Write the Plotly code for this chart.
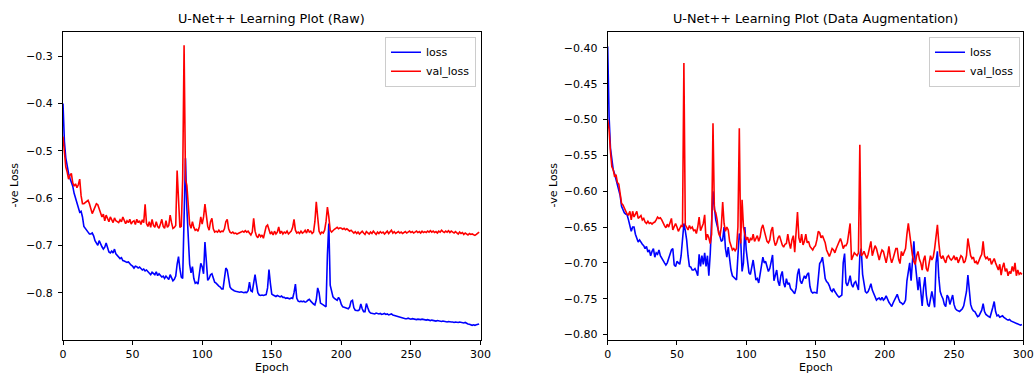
import plotly.graph_objects as go

W, H = 1034, 376

epochs = list(range(300))

raw_loss = [
-0.400,-0.480,-0.515,-0.535,-0.548,-0.558,-0.567,-0.575,-0.590,-0.600,
-0.607,-0.618,-0.630,-0.628,-0.640,-0.660,-0.665,-0.668,-0.672,-0.676,
-0.676,-0.674,-0.680,-0.690,-0.696,-0.700,-0.690,-0.698,-0.703,-0.708,
-0.704,-0.695,-0.708,-0.714,-0.716,-0.712,-0.716,-0.708,-0.718,-0.722,
-0.726,-0.728,-0.726,-0.732,-0.733,-0.734,-0.736,-0.735,-0.740,-0.742,
-0.744,-0.748,-0.744,-0.745,-0.748,-0.746,-0.749,-0.752,-0.750,-0.754,
-0.752,-0.756,-0.760,-0.762,-0.757,-0.760,-0.762,-0.756,-0.764,-0.760,
-0.763,-0.767,-0.765,-0.770,-0.765,-0.768,-0.772,-0.762,-0.770,-0.775,
-0.772,-0.765,-0.740,-0.724,-0.750,-0.767,-0.770,-0.640,-0.516,-0.622,
-0.700,-0.740,-0.758,-0.745,-0.770,-0.780,-0.778,-0.782,-0.760,-0.738,
-0.745,-0.760,-0.693,-0.740,-0.774,-0.770,-0.762,-0.760,-0.770,-0.778,
-0.780,-0.784,-0.786,-0.788,-0.792,-0.792,-0.770,-0.748,-0.752,-0.776,
-0.788,-0.792,-0.795,-0.796,-0.797,-0.798,-0.798,-0.799,-0.798,-0.799,
-0.800,-0.799,-0.800,-0.796,-0.778,-0.796,-0.798,-0.780,-0.762,-0.782,
-0.800,-0.805,-0.806,-0.805,-0.806,-0.805,-0.804,-0.790,-0.751,-0.780,
-0.803,-0.805,-0.806,-0.808,-0.806,-0.808,-0.809,-0.807,-0.810,-0.810,
-0.812,-0.811,-0.812,-0.813,-0.811,-0.812,-0.800,-0.782,-0.812,-0.818,
-0.819,-0.818,-0.819,-0.818,-0.820,-0.819,-0.816,-0.814,-0.818,-0.822,
-0.824,-0.826,-0.815,-0.790,-0.800,-0.822,-0.825,-0.826,-0.828,-0.830,
-0.720,-0.654,-0.784,-0.800,-0.809,-0.812,-0.815,-0.816,-0.810,-0.815,
-0.825,-0.830,-0.831,-0.832,-0.833,-0.834,-0.830,-0.818,-0.816,-0.832,
-0.837,-0.838,-0.838,-0.836,-0.824,-0.834,-0.840,-0.840,-0.823,-0.832,
-0.840,-0.843,-0.844,-0.844,-0.845,-0.843,-0.844,-0.845,-0.844,-0.846,
-0.845,-0.844,-0.846,-0.845,-0.847,-0.846,-0.845,-0.847,-0.848,-0.848,
-0.850,-0.851,-0.852,-0.853,-0.853,-0.854,-0.855,-0.855,-0.854,-0.855,
-0.856,-0.855,-0.856,-0.856,-0.857,-0.856,-0.857,-0.857,-0.856,-0.857,
-0.858,-0.858,-0.857,-0.858,-0.859,-0.858,-0.859,-0.859,-0.860,-0.859,
-0.860,-0.860,-0.861,-0.860,-0.861,-0.861,-0.862,-0.861,-0.862,-0.862,
-0.862,-0.863,-0.862,-0.863,-0.863,-0.862,-0.863,-0.864,-0.864,-0.863,
-0.865,-0.866,-0.867,-0.868,-0.869,-0.868,-0.869,-0.868,-0.867,-0.866,
]

raw_val_loss = [
-0.470,-0.510,-0.534,-0.545,-0.560,-0.552,-0.548,-0.568,-0.575,-0.570,
-0.578,-0.572,-0.560,-0.595,-0.612,-0.612,-0.610,-0.608,-0.605,-0.612,
-0.625,-0.633,-0.626,-0.618,-0.612,-0.614,-0.622,-0.630,-0.640,-0.634,
-0.648,-0.636,-0.644,-0.650,-0.640,-0.646,-0.652,-0.642,-0.648,-0.650,
-0.652,-0.646,-0.650,-0.640,-0.648,-0.654,-0.648,-0.652,-0.645,-0.655,
-0.650,-0.648,-0.656,-0.645,-0.652,-0.648,-0.656,-0.646,-0.652,-0.613,
-0.654,-0.660,-0.650,-0.662,-0.645,-0.658,-0.662,-0.650,-0.660,-0.664,
-0.655,-0.645,-0.660,-0.664,-0.648,-0.662,-0.658,-0.636,-0.652,-0.664,
-0.662,-0.658,-0.542,-0.610,-0.662,-0.660,-0.560,-0.277,-0.560,-0.573,
-0.626,-0.655,-0.664,-0.650,-0.662,-0.668,-0.666,-0.670,-0.660,-0.640,
-0.655,-0.640,-0.613,-0.635,-0.660,-0.668,-0.650,-0.643,-0.665,-0.672,
-0.670,-0.672,-0.668,-0.672,-0.670,-0.671,-0.665,-0.650,-0.645,-0.665,
-0.672,-0.674,-0.672,-0.675,-0.674,-0.676,-0.675,-0.674,-0.672,-0.670,
-0.672,-0.669,-0.672,-0.670,-0.675,-0.678,-0.672,-0.643,-0.670,-0.680,
-0.684,-0.676,-0.682,-0.678,-0.685,-0.674,-0.660,-0.657,-0.668,-0.676,
-0.672,-0.678,-0.670,-0.676,-0.672,-0.661,-0.675,-0.670,-0.676,-0.672,
-0.674,-0.670,-0.676,-0.673,-0.670,-0.662,-0.645,-0.668,-0.674,-0.672,
-0.675,-0.670,-0.674,-0.672,-0.668,-0.674,-0.666,-0.672,-0.670,-0.675,
-0.672,-0.650,-0.608,-0.640,-0.670,-0.676,-0.672,-0.674,-0.668,-0.650,
-0.619,-0.640,-0.668,-0.672,-0.668,-0.666,-0.664,-0.662,-0.665,-0.663,
-0.664,-0.666,-0.664,-0.667,-0.665,-0.668,-0.670,-0.668,-0.672,-0.674,
-0.671,-0.675,-0.672,-0.676,-0.673,-0.670,-0.674,-0.677,-0.671,-0.674,
-0.676,-0.672,-0.675,-0.670,-0.674,-0.677,-0.672,-0.675,-0.671,-0.674,
-0.672,-0.676,-0.673,-0.670,-0.675,-0.672,-0.668,-0.674,-0.671,-0.675,
-0.673,-0.671,-0.674,-0.672,-0.675,-0.673,-0.671,-0.674,-0.672,-0.670,
-0.673,-0.671,-0.674,-0.672,-0.670,-0.673,-0.671,-0.674,-0.670,-0.673,
-0.671,-0.673,-0.670,-0.672,-0.669,-0.672,-0.670,-0.673,-0.671,-0.674,
-0.670,-0.672,-0.668,-0.671,-0.673,-0.670,-0.672,-0.669,-0.673,-0.670,
-0.672,-0.674,-0.671,-0.673,-0.676,-0.672,-0.675,-0.673,-0.677,-0.674,
-0.676,-0.678,-0.675,-0.677,-0.676,-0.678,-0.679,-0.677,-0.675,-0.672,
]

aug_loss = [
-0.398,-0.496,-0.540,-0.558,-0.570,-0.576,-0.584,-0.588,-0.596,-0.606,
-0.621,-0.627,-0.630,-0.632,-0.633,-0.640,-0.648,-0.656,-0.650,-0.650,
-0.660,-0.666,-0.671,-0.668,-0.672,-0.674,-0.676,-0.680,-0.677,-0.685,
-0.682,-0.690,-0.684,-0.680,-0.692,-0.686,-0.688,-0.682,-0.690,-0.694,
-0.698,-0.700,-0.703,-0.700,-0.694,-0.688,-0.682,-0.680,-0.703,-0.705,
-0.698,-0.700,-0.702,-0.690,-0.668,-0.645,-0.655,-0.668,-0.690,-0.705,
-0.706,-0.710,-0.710,-0.708,-0.712,-0.718,-0.688,-0.705,-0.690,-0.702,
-0.686,-0.705,-0.690,-0.718,-0.688,-0.650,-0.600,-0.622,-0.640,-0.648,
-0.656,-0.664,-0.670,-0.668,-0.650,-0.680,-0.692,-0.678,-0.700,-0.710,
-0.718,-0.720,-0.722,-0.724,-0.690,-0.659,-0.668,-0.712,-0.700,-0.650,
-0.682,-0.700,-0.714,-0.716,-0.705,-0.696,-0.710,-0.724,-0.722,-0.728,
-0.716,-0.700,-0.692,-0.700,-0.698,-0.705,-0.712,-0.708,-0.695,-0.689,
-0.725,-0.718,-0.710,-0.726,-0.732,-0.718,-0.712,-0.728,-0.734,-0.722,
-0.730,-0.728,-0.736,-0.738,-0.740,-0.743,-0.735,-0.716,-0.708,-0.725,
-0.729,-0.722,-0.718,-0.722,-0.716,-0.714,-0.733,-0.740,-0.742,-0.741,
-0.742,-0.742,-0.722,-0.701,-0.698,-0.692,-0.706,-0.722,-0.726,-0.728,
-0.732,-0.738,-0.740,-0.736,-0.740,-0.744,-0.746,-0.748,-0.746,-0.745,
-0.700,-0.687,-0.728,-0.732,-0.726,-0.718,-0.730,-0.734,-0.728,-0.726,
-0.732,-0.738,-0.690,-0.680,-0.716,-0.730,-0.740,-0.742,-0.740,-0.735,
-0.729,-0.738,-0.742,-0.748,-0.752,-0.750,-0.749,-0.752,-0.748,-0.752,
-0.750,-0.746,-0.751,-0.755,-0.758,-0.761,-0.756,-0.752,-0.746,-0.744,
-0.750,-0.755,-0.756,-0.758,-0.756,-0.752,-0.725,-0.712,-0.700,-0.725,
-0.700,-0.670,-0.700,-0.720,-0.738,-0.720,-0.745,-0.760,-0.735,-0.720,
-0.745,-0.758,-0.761,-0.752,-0.740,-0.750,-0.762,-0.700,-0.684,-0.720,
-0.740,-0.746,-0.750,-0.758,-0.761,-0.745,-0.748,-0.758,-0.752,-0.745,
-0.758,-0.764,-0.766,-0.767,-0.768,-0.766,-0.764,-0.760,-0.752,-0.740,
-0.717,-0.740,-0.758,-0.764,-0.767,-0.768,-0.772,-0.775,-0.774,-0.770,
-0.766,-0.757,-0.768,-0.772,-0.774,-0.775,-0.776,-0.770,-0.762,-0.754,
-0.768,-0.774,-0.773,-0.776,-0.775,-0.774,-0.776,-0.778,-0.779,-0.780,
-0.779,-0.781,-0.782,-0.782,-0.783,-0.784,-0.785,-0.786,-0.787,-0.786,
]

aug_val_loss = [
-0.500,-0.514,-0.545,-0.566,-0.570,-0.580,-0.577,-0.588,-0.590,-0.603,
-0.617,-0.619,-0.624,-0.628,-0.632,-0.633,-0.628,-0.640,-0.628,-0.636,
-0.632,-0.628,-0.638,-0.636,-0.634,-0.640,-0.638,-0.643,-0.645,-0.642,
-0.645,-0.644,-0.646,-0.644,-0.643,-0.640,-0.636,-0.638,-0.637,-0.640,
-0.645,-0.648,-0.651,-0.646,-0.650,-0.642,-0.638,-0.654,-0.650,-0.645,
-0.650,-0.656,-0.652,-0.648,-0.650,-0.421,-0.647,-0.650,-0.654,-0.648,
-0.652,-0.650,-0.655,-0.654,-0.659,-0.650,-0.636,-0.655,-0.650,-0.645,
-0.633,-0.668,-0.660,-0.665,-0.673,-0.660,-0.505,-0.626,-0.630,-0.640,
-0.658,-0.663,-0.650,-0.615,-0.645,-0.656,-0.650,-0.654,-0.670,-0.676,
-0.682,-0.680,-0.683,-0.680,-0.650,-0.512,-0.673,-0.612,-0.650,-0.660,
-0.668,-0.664,-0.672,-0.666,-0.668,-0.660,-0.670,-0.666,-0.662,-0.670,
-0.664,-0.652,-0.647,-0.655,-0.665,-0.670,-0.672,-0.668,-0.655,-0.650,
-0.668,-0.676,-0.672,-0.665,-0.662,-0.670,-0.675,-0.678,-0.674,-0.673,
-0.660,-0.672,-0.680,-0.668,-0.662,-0.685,-0.660,-0.629,-0.665,-0.672,
-0.660,-0.675,-0.670,-0.660,-0.672,-0.670,-0.677,-0.680,-0.682,-0.678,
-0.676,-0.668,-0.656,-0.658,-0.665,-0.662,-0.668,-0.672,-0.682,-0.688,
-0.691,-0.686,-0.680,-0.682,-0.686,-0.680,-0.676,-0.670,-0.666,-0.672,
-0.680,-0.676,-0.676,-0.672,-0.660,-0.645,-0.696,-0.690,-0.686,-0.688,
-0.690,-0.686,-0.535,-0.690,-0.688,-0.684,-0.690,-0.694,-0.688,-0.678,
-0.670,-0.690,-0.684,-0.676,-0.680,-0.690,-0.696,-0.688,-0.682,-0.684,
-0.692,-0.700,-0.690,-0.677,-0.692,-0.700,-0.694,-0.688,-0.680,-0.680,
-0.695,-0.701,-0.684,-0.690,-0.686,-0.680,-0.660,-0.645,-0.660,-0.676,
-0.690,-0.698,-0.702,-0.690,-0.684,-0.695,-0.700,-0.710,-0.696,-0.690,
-0.708,-0.712,-0.698,-0.690,-0.696,-0.692,-0.680,-0.660,-0.647,-0.672,
-0.690,-0.694,-0.690,-0.696,-0.700,-0.692,-0.690,-0.694,-0.696,-0.694,
-0.690,-0.696,-0.692,-0.700,-0.696,-0.690,-0.692,-0.700,-0.698,-0.690,
-0.666,-0.680,-0.690,-0.694,-0.692,-0.700,-0.698,-0.702,-0.696,-0.692,
-0.688,-0.670,-0.690,-0.694,-0.692,-0.696,-0.694,-0.702,-0.698,-0.694,
-0.700,-0.706,-0.710,-0.702,-0.717,-0.706,-0.700,-0.712,-0.708,-0.718,
-0.712,-0.715,-0.705,-0.712,-0.700,-0.718,-0.710,-0.716,-0.714,-0.716,
]

titles = ["U-Net++ Learning Plot (Raw)", "U-Net++ Learning Plot (Data Augmentation)"]
x_label = "Epoch"
y_label = "-ve Loss"
series_names = ["loss", "val_loss"]
x_ticks = [0, 50, 100, 150, 200, 250, 300]
raw_y_ticks = [-0.8, -0.7, -0.6, -0.5, -0.4, -0.3]
aug_y_ticks = [-0.80, -0.75, -0.70, -0.65, -0.60, -0.55, -0.50, -0.45, -0.40]

FONT = "DejaVu Sans"
BLUE = "#0000ff"
RED = "#ff0000"
TICK_SIZE = 11
LABEL_SIZE = 11
TITLE_SIZE = 12.8

# pixel geometry of the two axes boxes
L_X0, L_X1 = 63.0, 480.5
R_X0, R_X1 = 607.7, 1023.3
Y_TOP, Y_BOT = 31.5, 339.5

def fx(px):
    return px / W

def fy(py):
    return 1 - py / H

fig = go.Figure()

fig.add_trace(go.Scatter(x=epochs, y=raw_loss, mode="lines", name=series_names[0],
                         line=dict(color=BLUE, width=1.6), xaxis="x", yaxis="y", legend="legend"))
fig.add_trace(go.Scatter(x=epochs, y=raw_val_loss, mode="lines", name=series_names[1],
                         line=dict(color=RED, width=1.6), xaxis="x", yaxis="y", legend="legend"))
fig.add_trace(go.Scatter(x=epochs, y=aug_loss, mode="lines", name=series_names[0],
                         line=dict(color=BLUE, width=1.6), xaxis="x2", yaxis="y2", legend="legend2"))
fig.add_trace(go.Scatter(x=epochs, y=aug_val_loss, mode="lines", name=series_names[1],
                         line=dict(color=RED, width=1.6), xaxis="x2", yaxis="y2", legend="legend2"))

axis_common = dict(showline=True, linecolor="black", linewidth=1, mirror=True,
                   ticks="outside", ticklen=4, tickcolor="black", tickwidth=1,
                   showgrid=False, zeroline=False, automargin=False,
                   tickfont=dict(family=FONT, size=TICK_SIZE, color="black"))

legend_common = dict(bgcolor="rgba(255,255,255,0.8)", bordercolor="#cccccc", borderwidth=1,
                     font=dict(family=FONT, size=LABEL_SIZE, color="black"), itemwidth=30,
                     xanchor="right", yanchor="top", tracegroupgap=0)

fig.update_layout(
    width=W, height=H, autosize=False,
    margin=dict(l=0, r=0, t=0, b=0, pad=0, autoexpand=False),
    paper_bgcolor="white", plot_bgcolor="white",
    font=dict(family=FONT, color="black"),
    xaxis=dict(domain=[fx(L_X0), fx(L_X1)], range=[0, 300], tickvals=x_ticks,
               anchor="y", **axis_common),
    yaxis=dict(domain=[fy(Y_BOT), fy(Y_TOP)], range=[-0.899, -0.248], tickvals=raw_y_ticks,
               tickformat=".1f", anchor="x", ticklabelstandoff=3, **axis_common),
    xaxis2=dict(domain=[fx(R_X0), fx(R_X1)], range=[0, 300], tickvals=x_ticks,
                anchor="y2", **axis_common),
    yaxis2=dict(domain=[fy(Y_BOT), fy(Y_TOP)], range=[-0.807, -0.377], tickvals=aug_y_ticks,
                tickformat=".2f", anchor="x2", ticklabelstandoff=3, **axis_common),
    legend=dict(x=fx(476), y=fy(36.7), **legend_common),
    legend2=dict(x=fx(1020), y=fy(36.7), **legend_common),
    showlegend=True,
)

annotations = []
for i, (x0, x1) in enumerate([(L_X0, L_X1), (R_X0, R_X1)]):
    annotations.append(dict(text=titles[i], x=fx((x0 + x1) / 2), y=fy(19), xref="paper", yref="paper",
                            xanchor="center", yanchor="middle", showarrow=False,
                            font=dict(family=FONT, size=TITLE_SIZE, color="black")))
    annotations.append(dict(text=x_label, x=fx((x0 + x1) / 2), y=fy(367.5), xref="paper", yref="paper",
                            xanchor="center", yanchor="middle", showarrow=False,
                            font=dict(family=FONT, size=LABEL_SIZE, color="black")))
for xc in [14.0, 553.0]:
    annotations.append(dict(text=y_label, x=fx(xc), y=fy((Y_TOP + Y_BOT) / 2), xref="paper", yref="paper",
                            xanchor="center", yanchor="middle", showarrow=False, textangle=-90,
                            font=dict(family=FONT, size=LABEL_SIZE, color="black")))
fig.update_layout(annotations=annotations)

fig.write_html("out.html", config={"displayModeBar": False},
               post_script="document.body.style.margin='0px';document.body.style.overflow='hidden';")
